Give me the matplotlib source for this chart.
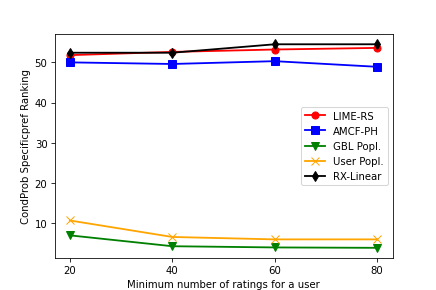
import matplotlib
matplotlib.use("Agg")
import matplotlib.pyplot as plt

min_ratings = [20, 40, 60, 80]

lime_rs = [51.8, 52.6, 53.2, 53.6]
amcf_ph = [50.0, 49.6, 50.3, 48.9]
gbl_popl = [7.0, 4.3, 4.0, 3.9]
user_popl = [10.7, 6.6, 6.0, 6.0]
rx_linear = [52.4, 52.4, 54.5, 54.5]

fig, ax = plt.subplots(figsize=(6, 4))

# slightly heavier lines/markers than the defaults, as in the reference
style = dict(linewidth=1.8, markersize=7)
ax.plot(min_ratings, lime_rs, color="red", marker="o", label="LIME-RS", **style)
ax.plot(min_ratings, amcf_ph, color="blue", marker="s", label="AMCF-PH", **style)
ax.plot(min_ratings, gbl_popl, color="green", marker="v", label="GBL Popl.", **style)
ax.plot(min_ratings, user_popl, color="orange", marker="x", label="User Popl.", **style)
ax.plot(min_ratings, rx_linear, color="black", marker="d", label="RX-Linear", **style)

ax.set_xticks(min_ratings)
ax.set_xlabel("Minimum number of ratings for a user")
ax.set_ylabel("CondProb Specificpref Ranking")
ax.legend(loc="center right")

fig.savefig("out.png", dpi=72.7)
